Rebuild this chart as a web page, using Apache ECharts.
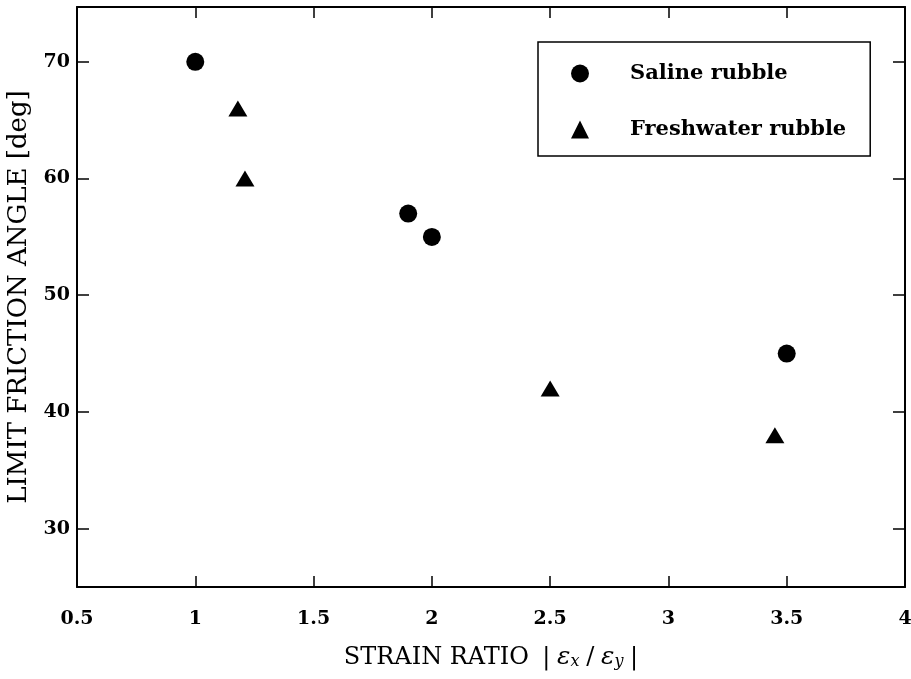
<!DOCTYPE html>
<html>
<head>
<meta charset="utf-8">
<script src="https://cdn.jsdelivr.net/npm/echarts@6/dist/echarts.min.js"></script>
<style>
  html, body { margin: 0; padding: 0; background: #fff; }
  #chart { width: 911px; height: 679px; }
</style>
</head>
<body>
<div id="chart"></div>
<script>
// strain ratio |ex/ey| vs limit friction angle [deg]
const salineX = [1, 1.9, 2, 3.5];
const salineY = [70, 57, 55, 45];
const freshX = [1.18, 1.21, 2.5, 3.45];
const freshY = [66, 60, 42, 38];
const yTicks = [30, 40, 50, 60, 70];

const serif = '"DejaVu Serif", "Liberation Serif", serif';

const chart = echarts.init(document.getElementById('chart'));

const baseX = {
  type: 'value',
  min: 0.5,
  max: 4,
  interval: 0.5,
  axisLine: { show: true, onZero: false, lineStyle: { color: '#000', width: 2 } },
  axisTick: { show: true, inside: true, length: 11, lineStyle: { color: '#000', width: 1.5 } },
  splitLine: { show: false }
};
const baseY = {
  type: 'value',
  min: 25,
  max: 74.7,
  axisLine: { show: true, onZero: false, lineStyle: { color: '#000', width: 2 } },
  axisTick: { show: true, inside: true, length: 12, customValues: yTicks, lineStyle: { color: '#000', width: 1.5 } },
  splitLine: { show: false }
};

const option = {
  animation: false,
  backgroundColor: '#fff',
  grid: { left: 77, right: 6, top: 7, bottom: 92, outerBoundsMode: 'none', containLabel: false },
  legend: {
    orient: 'vertical',
    left: 538,
    top: 42,
    padding: [21, 24, 16, 33],
    itemWidth: 18,
    itemHeight: 18,
    itemGap: 35,
    borderColor: '#000',
    borderWidth: 1.5,
    textStyle: { fontFamily: serif, fontWeight: 'bold', fontSize: 21, color: '#000', padding: [0, 0, 0, 36] },
    data: ['Saline rubble', 'Freshwater rubble']
  },
  xAxis: [
    Object.assign({}, baseX, {
      position: 'bottom',
      name: '{n|STRAIN RATIO}    {n||}  {i|ε}{s|x}  {n|/}  {i|ε}{s|y}  {n||}',
      nameLocation: 'middle',
      nameGap: 55,
      nameTextStyle: {
        rich: {
          n: { fontFamily: serif, fontSize: 24, color: '#000', lineHeight: 28, verticalAlign: 'bottom' },
          i: { fontFamily: serif, fontStyle: 'italic', fontSize: 25, color: '#000', lineHeight: 28, verticalAlign: 'bottom' },
          s: { fontFamily: serif, fontStyle: 'italic', fontSize: 16, color: '#000', lineHeight: 12, verticalAlign: 'bottom' }
        }
      },
      axisLabel: { margin: 23, fontFamily: serif, fontWeight: 'bold', fontSize: 19, color: '#000' }
    }),
    Object.assign({}, baseX, { position: 'top', axisLabel: { show: false } })
  ],
  yAxis: [
    Object.assign({}, baseY, {
      position: 'left',
      name: 'LIMIT FRICTION ANGLE [deg]',
      nameLocation: 'middle',
      nameRotate: 90,
      nameGap: 45,
      nameTextStyle: { fontFamily: serif, fontSize: 26, color: '#000' },
      axisLabel: { margin: 7, customValues: yTicks, fontFamily: serif, fontWeight: 'bold', fontSize: 19, color: '#000' }
    }),
    Object.assign({}, baseY, { position: 'right', axisLabel: { show: false } })
  ],
  series: [
    {
      name: 'Saline rubble',
      type: 'scatter',
      symbol: 'circle',
      symbolSize: 18,
      itemStyle: { color: '#000', opacity: 1 },
      data: salineX.map((x, i) => [x, salineY[i]])
    },
    {
      name: 'Freshwater rubble',
      type: 'scatter',
      symbol: 'triangle',
      symbolSize: [19, 16],
      itemStyle: { color: '#000', opacity: 1 },
      data: freshX.map((x, i) => [x, freshY[i]])
    }
  ]
};

chart.setOption(option);
</script>
</body>
</html>
